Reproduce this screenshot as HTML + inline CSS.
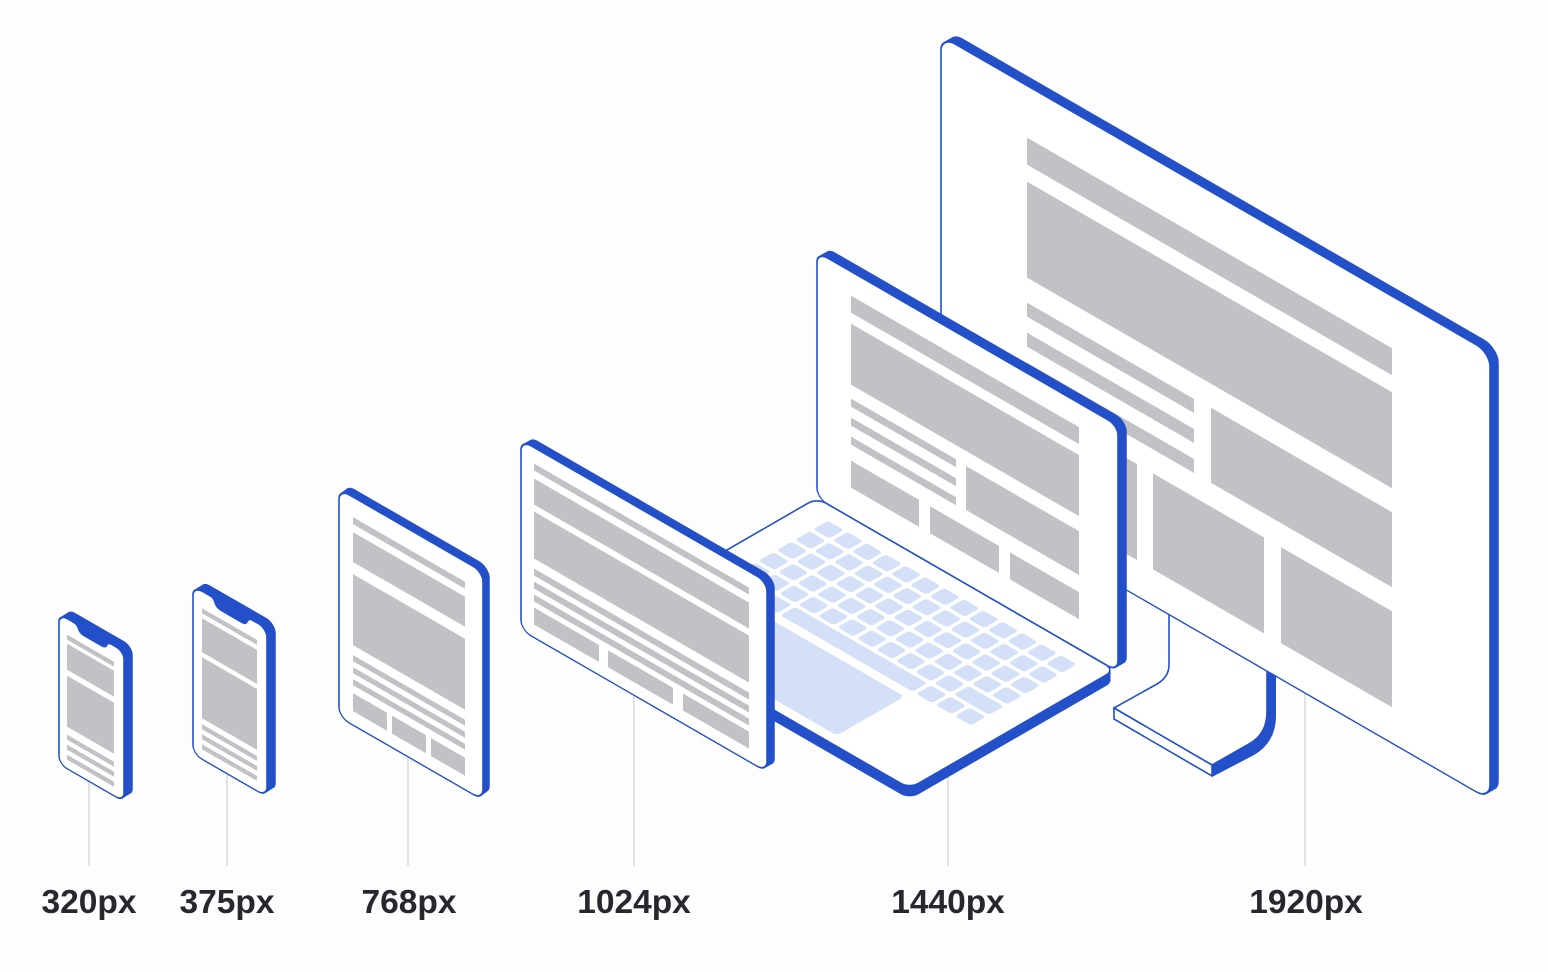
<!DOCTYPE html>
<html><head><meta charset="utf-8"><style>
html,body{margin:0;padding:0;background:#fdfdfe;}
svg{display:block}
.b{fill:#2350c9;stroke:#2350c9;stroke-width:1.5}
.f{fill:#ffffff;stroke:#2350c9;stroke-width:1.6}
.g{fill:#c2c1c6}
.k{fill:#d4e0f7}
text{font-family:"Liberation Sans",Arial,sans-serif;font-weight:700;font-size:33.5px;fill:#28272e;text-anchor:middle}
</style></head><body>
<svg width="1548" height="972" viewBox="0 0 1548 972">
<!-- guide lines -->
<g stroke="#d9d9dd" stroke-width="1.5">
<line x1="89" y1="770" x2="89" y2="866"/>
<line x1="227" y1="760" x2="227" y2="866"/>
<line x1="408" y1="740" x2="408" y2="866"/>
<line x1="634" y1="650" x2="634" y2="866"/>
<line x1="948" y1="770" x2="948" y2="866"/>
<line x1="1305" y1="660" x2="1305" y2="866"/>
</g>

<!-- monitor stand -->
<path d="M1212,764 L1249,743 Q1267,733 1267,712 L1267,600 L1276,600 L1276,716 Q1276,742 1254,755 L1212,777 Z" fill="#2350c9"/>
<path class="f" d="M1169,600 L1169,665 Q1169,677 1157,684 L1114,708 L1212,765 L1249,744 Q1267,734 1267,712 L1267,600 Z"/>
<path class="f" d="M1114,708 L1212,765 L1212,776 L1114,719 Z"/>

<!-- monitor -->
<g transform="matrix(1,0.577,0,1,0,-542.96)">
<rect class="b" x="943" y="33.7" width="549" height="447" rx="14"/>
<rect class="b" x="945" y="31.4" width="549" height="447" rx="14"/>
<rect class="b" x="947" y="29.1" width="549" height="447" rx="14"/>
<rect class="b" x="949" y="26.8" width="549" height="447" rx="14"/>
<rect class="f" x="941" y="36" width="549" height="447" rx="14"/>
<rect class="g" x="1027" y="88" width="365" height="27"/>
<rect class="g" x="1027" y="132" width="365" height="96"/>
<rect class="g" x="1027" y="253" width="167" height="14"/>
<rect class="g" x="1027" y="283" width="167" height="14"/>
<rect class="g" x="1027" y="313" width="167" height="14"/>
<rect class="g" x="1211" y="252" width="181" height="75"/>
<rect class="g" x="1027" y="351" width="110" height="96"/>
<rect class="g" x="1153" y="351" width="111" height="96"/>
<rect class="g" x="1281" y="351" width="111" height="96"/>
</g>

<!-- laptop screen -->
<g transform="matrix(1,0.577,0,1,0,-471.4)">
<rect class="b" x="819" y="249.7" width="301" height="246" rx="10"/>
<rect class="b" x="821" y="247.4" width="301" height="246" rx="10"/>
<rect class="b" x="823" y="245.1" width="301" height="246" rx="10"/>
<rect class="b" x="825" y="242.8" width="301" height="246" rx="10"/>
<rect class="f" x="817" y="252" width="301" height="246" rx="10"/>
<rect class="g" x="851" y="276" width="228" height="17"/>
<rect class="g" x="851" y="304" width="228" height="61"/>
<rect class="g" x="851" y="379" width="105" height="8"/>
<rect class="g" x="851" y="398" width="105" height="8"/>
<rect class="g" x="851" y="417" width="105" height="8"/>
<rect class="g" x="966" y="380" width="113" height="44"/>
<rect class="g" x="851" y="441" width="68" height="27"/>
<rect class="g" x="930" y="441" width="69" height="27"/>
<rect class="g" x="1010" y="441" width="69" height="27"/>
</g>

<!-- laptop deck -->
<g fill="#2350c9" stroke="#2350c9" stroke-width="1.5">
<rect transform="translate(0,2) matrix(0.866,0.5,-0.866,0.5,817,498)" x="0" y="0" width="344" height="237" rx="10" vector-effect="non-scaling-stroke"/>
<rect transform="translate(0,4) matrix(0.866,0.5,-0.866,0.5,817,498)" x="0" y="0" width="344" height="237" rx="10" vector-effect="non-scaling-stroke"/>
<rect transform="translate(0,6) matrix(0.866,0.5,-0.866,0.5,817,498)" x="0" y="0" width="344" height="237" rx="10" vector-effect="non-scaling-stroke"/>
<rect transform="translate(0,8) matrix(0.866,0.5,-0.866,0.5,817,498)" x="0" y="0" width="344" height="237" rx="10" vector-effect="non-scaling-stroke"/>
<rect transform="translate(0,10) matrix(0.866,0.5,-0.866,0.5,817,498)" x="0" y="0" width="344" height="237" rx="10" vector-effect="non-scaling-stroke"/>
</g>
<g transform="matrix(0.866,0.5,-0.866,0.5,817,498)">
<rect x="0" y="0" width="344" height="237" rx="10" fill="#fff" stroke="#2350c9" stroke-width="1.6" vector-effect="non-scaling-stroke"/>
<g class="k">
<rect x="29" y="16.5" width="18.4" height="17" rx="3"/><rect x="51.4" y="16.5" width="18.4" height="17" rx="3"/><rect x="73.8" y="16.5" width="18.4" height="17" rx="3"/><rect x="96.2" y="16.5" width="18.4" height="17" rx="3"/><rect x="118.6" y="16.5" width="18.4" height="17" rx="3"/><rect x="141" y="16.5" width="18.4" height="17" rx="3"/><rect x="163.4" y="16.5" width="18.4" height="17" rx="3"/><rect x="185.8" y="16.5" width="18.4" height="17" rx="3"/><rect x="208.2" y="16.5" width="18.4" height="17" rx="3"/><rect x="230.6" y="16.5" width="18.4" height="17" rx="3"/><rect x="253" y="16.5" width="18.4" height="17" rx="3"/><rect x="275.4" y="16.5" width="18.4" height="17" rx="3"/><rect x="297.8" y="16.5" width="18.4" height="17" rx="3"/>
<rect x="29" y="37.5" width="18.4" height="17" rx="3"/><rect x="51.4" y="37.5" width="18.4" height="17" rx="3"/><rect x="73.8" y="37.5" width="18.4" height="17" rx="3"/><rect x="96.2" y="37.5" width="18.4" height="17" rx="3"/><rect x="118.6" y="37.5" width="18.4" height="17" rx="3"/><rect x="141" y="37.5" width="18.4" height="17" rx="3"/><rect x="163.4" y="37.5" width="18.4" height="17" rx="3"/><rect x="185.8" y="37.5" width="18.4" height="17" rx="3"/><rect x="208.2" y="37.5" width="18.4" height="17" rx="3"/><rect x="230.6" y="37.5" width="18.4" height="17" rx="3"/><rect x="253" y="37.5" width="18.4" height="17" rx="3"/><rect x="275.4" y="37.5" width="18.4" height="17" rx="3"/><rect x="297.8" y="37.5" width="18.4" height="17" rx="3"/>
<rect x="29" y="58.5" width="18.4" height="17" rx="3"/><rect x="51.4" y="58.5" width="18.4" height="17" rx="3"/><rect x="73.8" y="58.5" width="18.4" height="17" rx="3"/><rect x="96.2" y="58.5" width="18.4" height="17" rx="3"/><rect x="118.6" y="58.5" width="18.4" height="17" rx="3"/><rect x="141" y="58.5" width="18.4" height="17" rx="3"/><rect x="163.4" y="58.5" width="18.4" height="17" rx="3"/><rect x="185.8" y="58.5" width="18.4" height="17" rx="3"/><rect x="208.2" y="58.5" width="18.4" height="17" rx="3"/><rect x="230.6" y="58.5" width="18.4" height="17" rx="3"/><rect x="253" y="58.5" width="18.4" height="17" rx="3"/><rect x="275.4" y="58.5" width="18.4" height="17" rx="3"/><rect x="297.8" y="58.5" width="18.4" height="17" rx="3"/>
<rect x="29" y="79.5" width="18.4" height="17" rx="3"/><rect x="51.4" y="79.5" width="18.4" height="17" rx="3"/><rect x="73.8" y="79.5" width="18.4" height="17" rx="3"/><rect x="96.2" y="79.5" width="18.4" height="17" rx="3"/><rect x="118.6" y="79.5" width="18.4" height="17" rx="3"/><rect x="141" y="79.5" width="18.4" height="17" rx="3"/><rect x="163.4" y="79.5" width="18.4" height="17" rx="3"/><rect x="185.8" y="79.5" width="18.4" height="17" rx="3"/><rect x="208.2" y="79.5" width="18.4" height="17" rx="3"/><rect x="230.6" y="79.5" width="18.4" height="17" rx="3"/><rect x="253" y="79.5" width="18.4" height="17" rx="3"/><rect x="275.4" y="79.5" width="18.4" height="17" rx="3"/><rect x="297.8" y="79.5" width="18.4" height="17" rx="3"/>
<rect x="29" y="100.5" width="18.4" height="17" rx="3"/><rect x="51.4" y="100.5" width="18.4" height="17" rx="3"/><rect x="73.8" y="100.5" width="18.4" height="17" rx="3"/><rect x="96.2" y="100.5" width="18.4" height="17" rx="3"/><rect x="118.6" y="100.5" width="18.4" height="17" rx="3"/><rect x="141" y="100.5" width="18.4" height="17" rx="3"/><rect x="163.4" y="100.5" width="18.4" height="17" rx="3"/><rect x="185.8" y="100.5" width="18.4" height="17" rx="3"/><rect x="208.2" y="100.5" width="18.4" height="17" rx="3"/><rect x="230.6" y="100.5" width="18.4" height="17" rx="3"/><rect x="253" y="100.5" width="18.4" height="17" rx="3"/><rect x="275.4" y="100.5" width="40.8" height="17" rx="3"/>
<rect x="29" y="121.5" width="18.4" height="17" rx="3"/><rect x="51.4" y="121.5" width="18.4" height="17" rx="3"/><rect x="73.8" y="121.5" width="18.4" height="17" rx="3"/><rect x="96.2" y="121.5" width="152.6" height="17" rx="3"/><rect x="253" y="121.5" width="18.4" height="17" rx="3"/><rect x="275.4" y="121.5" width="18.4" height="17" rx="3"/><rect x="297.8" y="121.5" width="18.4" height="17" rx="3"/>
<rect x="40" y="148" width="209" height="78" rx="5"/>
</g>
</g>

<!-- 1024 -->
<g transform="matrix(1,0.577,0,1,0,-300.6)">
<rect class="b" x="522.75" y="438" width="246" height="190" rx="10"/>
<rect class="b" x="524.5" y="436" width="246" height="190" rx="10"/>
<rect class="b" x="526.25" y="434" width="246" height="190" rx="10"/>
<rect class="b" x="528" y="432" width="246" height="190" rx="10"/>
<rect class="f" x="521" y="440" width="246" height="190" rx="10"/>
<rect class="g" x="534" y="456" width="215" height="7"/>
<rect class="g" x="534" y="471" width="215" height="26"/>
<rect class="g" x="534" y="504" width="215" height="47"/>
<rect class="g" x="534" y="561" width="215" height="7"/>
<rect class="g" x="534" y="574" width="215" height="7"/>
<rect class="g" x="534" y="587" width="215" height="7"/>
<rect class="g" x="534" y="600" width="65" height="17"/>
<rect class="g" x="608" y="600" width="65" height="17"/>
<rect class="g" x="683" y="600" width="66" height="17"/>
</g>

<!-- 768 tablet -->
<g transform="matrix(1,0.577,0,1,0,-195.6)">
<rect class="b" x="340.5" y="487" width="144" height="228" rx="10"/>
<rect class="b" x="342" y="485" width="144" height="228" rx="10"/>
<rect class="b" x="343.5" y="483" width="144" height="228" rx="10"/>
<rect class="b" x="345" y="481" width="144" height="228" rx="10"/>
<rect class="f" x="339" y="489" width="144" height="228" rx="10"/>
<rect class="g" x="353" y="509" width="112" height="7"/>
<rect class="g" x="353" y="524" width="112" height="30"/>
<rect class="g" x="353" y="566" width="112" height="71"/>
<rect class="g" x="353" y="647" width="112" height="6"/>
<rect class="g" x="353" y="659" width="112" height="6"/>
<rect class="g" x="353" y="671" width="112" height="6"/>
<rect class="g" x="353" y="685" width="34" height="18"/>
<rect class="g" x="392" y="685" width="34" height="18"/>
<rect class="g" x="431" y="685" width="34" height="18"/>
</g>

<!-- 375 phone -->
<g transform="matrix(1,0.577,0,1,0,-111.36)">
<rect class="b" x="195" y="583.6" width="74" height="168" rx="9"/>
<rect class="b" x="197" y="581.2" width="74" height="168" rx="9"/>
<rect class="b" x="199" y="578.8" width="74" height="168" rx="9"/>
<rect class="b" x="201" y="576.4" width="74" height="168" rx="9"/>
<rect class="f" x="193" y="586" width="74" height="168" rx="9"/>
<path fill="#2350c9" d="M208,584 L208,586.5 C212,586.5 213.5,588 214.5,591 Q216,595 221,595 L241,595 Q246,595 247.5,591 C248.5,588 250,586.5 254,586.5 L254,584 Z"/>
<rect class="g" x="202" y="603" width="55" height="5"/>
<rect class="g" x="202" y="613" width="55" height="34"/>
<rect class="g" x="202" y="652" width="55" height="61"/>
<rect class="g" x="202" y="719" width="55" height="5"/>
<rect class="g" x="202" y="729" width="55" height="5"/>
<rect class="g" x="202" y="739" width="55" height="5"/>
</g>

<!-- 320 phone -->
<g transform="matrix(1,0.577,0,1,0,-34.04)">
<rect class="b" x="61" y="611.6" width="65" height="150" rx="8"/>
<rect class="b" x="63" y="609.2" width="65" height="150" rx="8"/>
<rect class="b" x="65" y="606.8" width="65" height="150" rx="8"/>
<rect class="b" x="67" y="604.4" width="65" height="150" rx="8"/>
<rect class="f" x="59" y="614" width="65" height="150" rx="8"/>
<path fill="#2350c9" d="M72,612 L72,614.5 C76,614.5 77,616 78,618.5 Q79.5,622 84,622 L101,622 Q105.5,622 107,618.5 C108,616 109,614.5 113,614.5 L113,612 Z"/>
<rect class="g" x="67" y="630" width="47" height="5"/>
<rect class="g" x="67" y="639" width="47" height="26"/>
<rect class="g" x="67" y="671" width="47" height="51"/>
<rect class="g" x="67" y="730" width="47" height="5"/>
<rect class="g" x="67" y="740" width="47" height="5"/>
<rect class="g" x="67" y="750" width="47" height="5"/>
</g>

<!-- labels -->
<text x="89" y="913">320px</text>
<text x="227" y="913">375px</text>
<text x="409" y="913">768px</text>
<text x="634" y="913">1024px</text>
<text x="948" y="913">1440px</text>
<text x="1306" y="913">1920px</text>
</svg>
</body></html>
